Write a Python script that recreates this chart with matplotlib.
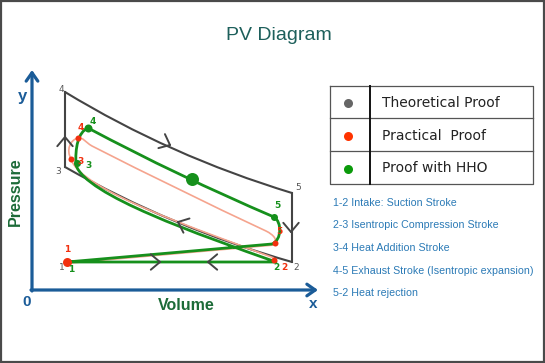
import numpy as np
import matplotlib.pyplot as plt
from matplotlib.path import Path
from matplotlib.patches import PathPatch, Rectangle

# --- colours
GRAY = '#444444'
GREEN = '#16901c'
RED = '#f2300f'
SALMON = '#f5a48e'
BLUE = '#1b5c98'
AXGREEN = '#1c6b38'
TEXTBLUE = '#2b7ab6'

# --- theoretical cycle (pixel positions of the sketch)
theo_45 = [(65, 92), (170, 156), (292, 193)]
theo_32 = [(65, 167), (172, 228), (292, 262)]
theo_52 = [(292, 193), (292, 262)]
theo_43 = [(65, 92), (65, 167)]
theo_labels = [('4', 61, 89), ('3', 58, 171), ('5', 298, 188), ('2', 296, 267), ('1', 62, 267)]

# --- cycle with HHO (cubic segments)
hho_path = [
    (Path.MOVETO, [(67, 262)]),
    (Path.LINETO, [(276, 262)]),
    (Path.CURVE4, [(200, 235), (85, 195), (76, 165)]),
    (Path.CURVE4, [(75, 148), (78, 132), (88, 128)]),
    (Path.CURVE3, [(178, 176), (274, 217)]),
    (Path.CURVE4, [(282, 222), (282, 240), (272, 244)]),
    (Path.LINETO, [(67, 262)]),
]
hho_dots = [(77, 163, 3.5), (88, 128, 4), (274, 217, 3.5), (192, 179, 6.5)]
hho_labels = [('1', 71, 269), ('3', 88, 166), ('4', 93, 121), ('5', 277, 206), ('2', 276, 268)]

# --- practical cycle
prac_path = [
    (Path.MOVETO, [(274, 258)]),
    (Path.CURVE4, [(200, 230), (80, 190), (71, 159)]),
    (Path.CURVE4, [(66, 150), (70, 140), (78, 138)]),
    (Path.CURVE4, [(83, 137), (85, 142), (92, 146)]),
    (Path.CURVE3, [(178, 190), (266, 231)]),
    (Path.CURVE4, [(274, 235), (278, 240), (274, 245)]),
    (Path.LINETO, [(70, 263)]),
]
prac_dots = [(67, 262, 4.5), (71, 159, 3), (78, 138, 3), (275, 243, 3), (274, 260, 3)]
prac_labels = [('1', 67, 250), ('3', 80, 161), ('4', 81, 128), ('5', 279, 231), ('2', 284, 268)]

# --- direction chevrons: x, y, angle (deg, screen coords)
chevrons = [(170, 145, 25), (178, 222, 203), (291, 232, 90), (65, 137, 270), (160, 262, 0), (208, 262, 180)]

# --- legend and notes
legend_names = ['Theoretical Proof', 'Practical  Proof', 'Proof with HHO']
legend_colors = ['#666666', '#ff3300', '#0a9a0a']
strokes = ['1-2 Intake: Suction Stroke',
           '2-3 Isentropic Compression Stroke',
           '3-4 Heat Addition Stroke',
           '4-5 Exhaust Stroke (Isentropic expansion)',
           '5-2 Heat rejection']

W, H = 545, 363
fig = plt.figure(figsize=(W / 100, H / 100), dpi=100)
ax = fig.add_axes([0, 0, 1, 1])
ax.set_xlim(0, W)
ax.set_ylim(H, 0)
ax.axis('off')

# frame
ax.add_patch(Rectangle((1, 1), W - 2, H - 2, fill=False, ec='#4a4a4a', lw=1.6))

ax.text(279, 36, 'PV Diagram', color='#1d5f5b', fontsize=14, family='Liberation Sans',
        ha='center', va='center')

# axes arrows
arrow = dict(arrowstyle='->,head_length=0.5,head_width=0.35', lw=2.3, color=BLUE,
             mutation_scale=12, shrinkA=0, shrinkB=0)
ax.annotate('', xy=(32, 70), xytext=(32, 291), arrowprops=arrow)
ax.annotate('', xy=(318, 290), xytext=(31, 290), arrowprops=arrow)
ax.text(22, 96, 'y', color=BLUE, fontsize=12, fontweight='bold', family='Liberation Sans',
        ha='center', va='center')
ax.text(27, 302, '0', color=BLUE, fontsize=11, fontweight='bold', family='Liberation Sans',
        ha='center', va='center')
ax.text(313, 304, 'x', color=BLUE, fontsize=11, fontweight='bold', family='Liberation Sans',
        ha='center', va='center')
ax.text(186, 306, 'Volume', color=AXGREEN, fontsize=11.5, fontweight='bold',
        family='Liberation Sans', ha='center', va='center')
ax.text(15, 192, 'Pressure', color=AXGREEN, fontsize=11.5, fontweight='bold',
        family='Liberation Sans', ha='center', va='center', rotation=90)


def quad(pts):
    return Path(pts, [Path.MOVETO, Path.CURVE3, Path.CURVE3])


def build(spec):
    verts, codes = [], []
    for code, pts in spec:
        verts += pts
        codes += [code] * len(pts)
    return Path(verts, codes)


# theoretical
for seg in (theo_45, theo_32):
    ax.add_patch(PathPatch(quad(seg), fill=False, ec=GRAY, lw=1.5))
for seg in (theo_52, theo_43):
    ax.plot(*zip(*seg), color=GRAY, lw=1.5)
for x, y, a in chevrons:
    t = np.radians(a)
    for s in (-1, 1):
        b = t + np.pi + s * np.radians(40)
        ax.plot([x, x + 12 * np.cos(b)], [y, y + 12 * np.sin(b)], color=GRAY, lw=1.4,
                solid_capstyle='round')
for s, x, y in theo_labels:
    ax.text(x, y, s, color='#555555', fontsize=6.5, ha='center', va='center')

# practical
ax.add_patch(PathPatch(build(prac_path), fill=False, ec=SALMON, lw=1.2))

# HHO
ax.add_patch(PathPatch(build(hho_path), fill=False, ec=GREEN, lw=2.0, joinstyle='round'))

for x, y, r in prac_dots:
    ax.plot(x, y, 'o', ms=r * 2 * 0.72, color=RED, mec='none')
for x, y, r in hho_dots:
    ax.plot(x, y, 'o', ms=r * 2 * 0.72, color=GREEN, mec='none')
for s, x, y in prac_labels:
    ax.text(x, y, s, color=RED, fontsize=6.5, fontweight='bold', ha='center', va='center')
for s, x, y in hho_labels:
    ax.text(x, y, s, color=GREEN, fontsize=6.5, fontweight='bold', ha='center', va='center')

# legend table
rows = [86, 118, 151, 184]
ax.plot([330, 533, 533, 330, 330], [86, 86, 184, 184, 86], color='#555555', lw=0.9)
for y in rows[1:-1]:
    ax.plot([330, 533], [y, y], color='#555555', lw=0.9)
ax.plot([370, 370], [86, 184], color='#111111', lw=1.4)
for i, (name, c) in enumerate(zip(legend_names, legend_colors)):
    yc = (rows[i] + rows[i + 1]) / 2 + 1
    ax.plot(348, yc, 'o', ms=6.5, color=c, mec='none')
    ax.text(382, yc, name, color='#222222', fontsize=10, ha='left', va='center')

# stroke notes
for i, s in enumerate(strokes):
    ax.text(333, 203 + i * 22.5, s, color=TEXTBLUE, fontsize=7.7,
            family='Liberation Sans', ha='left', va='center')

fig.savefig('out.png', dpi=100, facecolor='white')
